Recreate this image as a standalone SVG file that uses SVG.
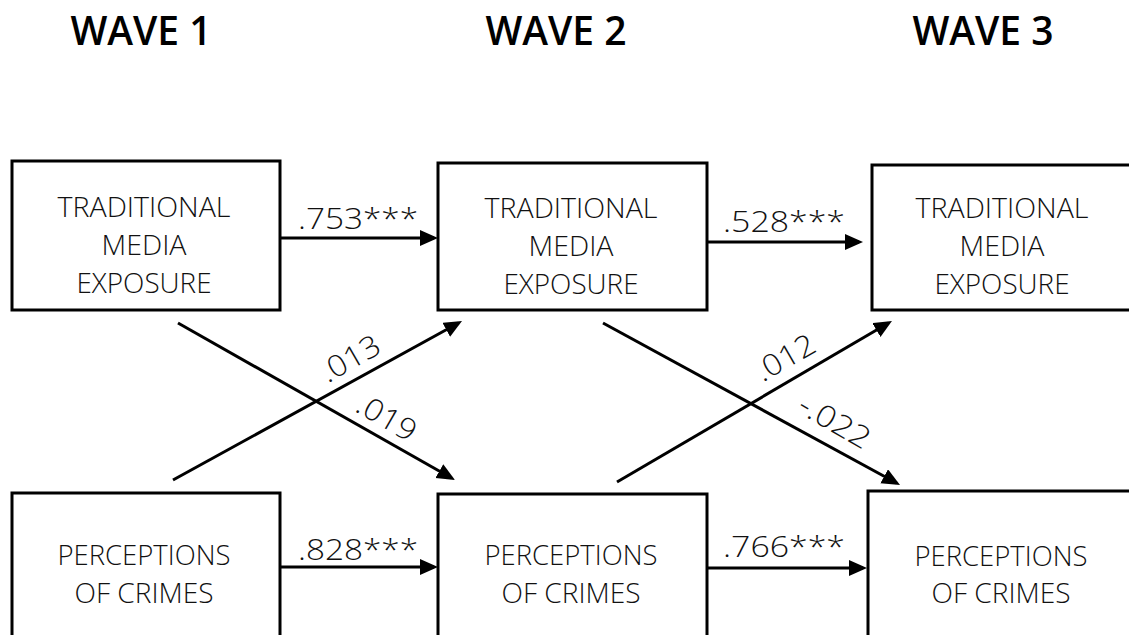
<svg xmlns="http://www.w3.org/2000/svg" width="1129" height="635" viewBox="0 0 1129 635">
  <style>
    .title { font-family: "Open Sans", "Liberation Sans", sans-serif; font-weight: 600; font-size: 39px; fill: #000; text-anchor: middle; }
    .box { fill: #fff; stroke: #000; stroke-width: 3; }
    .lbl { font-family: "Open Sans", "Liberation Sans", sans-serif; font-weight: 300; font-size: 27px; fill: #111; text-anchor: middle; }
    .coef { font-family: "Open Sans", "Liberation Sans", sans-serif; font-weight: 300; font-size: 29px; fill: #111; }
    .dcoef { font-family: "Open Sans", "Liberation Sans", sans-serif; font-weight: 300; font-size: 30px; fill: #111; text-anchor: middle; }
    .edge { stroke: #000; stroke-width: 3; fill: none; marker-end: url(#arrow); }
  </style>
  <defs>
    <marker id="arrow" markerUnits="userSpaceOnUse" markerWidth="20" markerHeight="18" refX="14" refY="8" orient="auto">
      <path d="M0,0 L18,8 L0,16 z" fill="#000"/>
    </marker>
  </defs>

  <!-- wave headings -->
  <g id="headings">
    <text class="title" x="141" y="45">WAVE 1</text>
    <text class="title" x="556" y="45">WAVE 2</text>
    <text class="title" x="983" y="45">WAVE 3</text>
  </g>

  <!-- media exposure, waves 1-3 -->
  <g id="media-w1">
    <rect class="box" x="12" y="161" width="268" height="149"/>
    <text class="lbl" x="144" y="217" textLength="173" lengthAdjust="spacingAndGlyphs">TRADITIONAL</text>
    <text class="lbl" x="144" y="255" textLength="85" lengthAdjust="spacingAndGlyphs">MEDIA</text>
    <text class="lbl" x="144" y="293" textLength="135" lengthAdjust="spacingAndGlyphs">EXPOSURE</text>
  </g>
  <g id="media-w2">
    <rect class="box" x="438" y="163" width="269" height="147"/>
    <text class="lbl" x="571" y="218" textLength="173" lengthAdjust="spacingAndGlyphs">TRADITIONAL</text>
    <text class="lbl" x="571" y="256" textLength="85" lengthAdjust="spacingAndGlyphs">MEDIA</text>
    <text class="lbl" x="571" y="294" textLength="135" lengthAdjust="spacingAndGlyphs">EXPOSURE</text>
  </g>
  <g id="media-w3">
    <rect class="box" x="872" y="165" width="280" height="145"/>
    <text class="lbl" x="1002" y="218" textLength="173" lengthAdjust="spacingAndGlyphs">TRADITIONAL</text>
    <text class="lbl" x="1002" y="256" textLength="85" lengthAdjust="spacingAndGlyphs">MEDIA</text>
    <text class="lbl" x="1002" y="294" textLength="135" lengthAdjust="spacingAndGlyphs">EXPOSURE</text>
  </g>

  <!-- crime perception, waves 1-3 -->
  <g id="crime-w1">
    <rect class="box" x="12" y="493" width="268" height="200"/>
    <text class="lbl" x="144" y="565" textLength="173" lengthAdjust="spacingAndGlyphs">PERCEPTIONS</text>
    <text class="lbl" x="144" y="603" textLength="139" lengthAdjust="spacingAndGlyphs">OF CRIMES</text>
  </g>
  <g id="crime-w2">
    <rect class="box" x="438" y="494" width="269" height="200"/>
    <text class="lbl" x="571" y="565" textLength="173" lengthAdjust="spacingAndGlyphs">PERCEPTIONS</text>
    <text class="lbl" x="571" y="603" textLength="139" lengthAdjust="spacingAndGlyphs">OF CRIMES</text>
  </g>
  <g id="crime-w3">
    <rect class="box" x="868" y="491" width="300" height="200"/>
    <text class="lbl" x="1001" y="566" textLength="173" lengthAdjust="spacingAndGlyphs">PERCEPTIONS</text>
    <text class="lbl" x="1001" y="603" textLength="139" lengthAdjust="spacingAndGlyphs">OF CRIMES</text>
  </g>

  <!-- paths with coefficients -->
  <g id="connectors">
    <line class="edge" x1="280" y1="238" x2="434" y2="238"/>
    <line class="edge" x1="707" y1="242" x2="859" y2="242"/>
    <line class="edge" x1="280" y1="567" x2="434" y2="567"/>
    <line class="edge" x1="707" y1="568" x2="863" y2="568"/>

    <line class="edge" x1="178" y1="323" x2="451.5" y2="478"/>
    <line class="edge" x1="173" y1="480" x2="458.5" y2="323"/>
    <line class="edge" x1="603" y1="323" x2="896.5" y2="483"/>
    <line class="edge" x1="617" y1="482" x2="888.5" y2="323"/>

    <text class="coef" x="298" y="229" textLength="120" lengthAdjust="spacingAndGlyphs">.753***</text>
    <text class="coef" x="723" y="232" textLength="122" lengthAdjust="spacingAndGlyphs">.528***</text>
    <text class="coef" x="298" y="560" textLength="120" lengthAdjust="spacingAndGlyphs">.828***</text>
    <text class="coef" x="723" y="557" textLength="122" lengthAdjust="spacingAndGlyphs">.766***</text>

    <text class="dcoef" transform="translate(350,358) rotate(-30)" y="11" textLength="64" lengthAdjust="spacingAndGlyphs">.013</text>
    <text class="dcoef" transform="translate(387,417) rotate(30)" y="11" textLength="64" lengthAdjust="spacingAndGlyphs">.019</text>
    <text class="dcoef" transform="translate(785,357) rotate(-30)" y="11" textLength="64" lengthAdjust="spacingAndGlyphs">.012</text>
    <text class="dcoef" transform="translate(835,421) rotate(30)" y="11" textLength="78" lengthAdjust="spacingAndGlyphs">-.022</text>
  </g>
</svg>
